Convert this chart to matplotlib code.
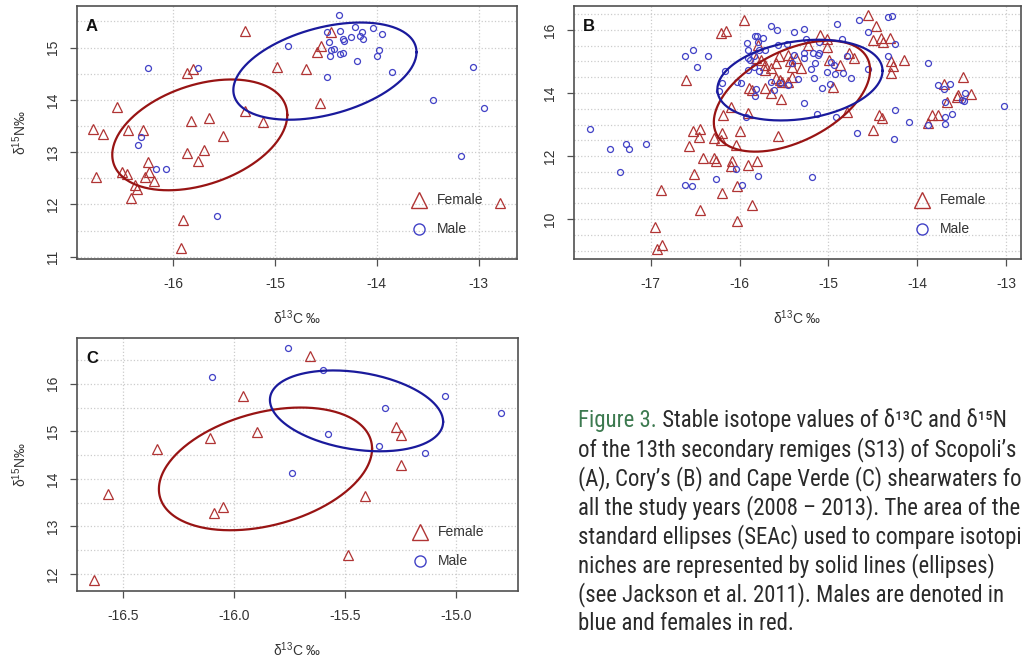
"""
Stable isotope biplots (d13C vs d15N) for three shearwater species, sexes split,
with the standard ellipses drawn on top.  Three panels + figure caption.
"""

import numpy as np
import matplotlib
matplotlib.use("Agg")
import matplotlib.pyplot as plt
from matplotlib import font_manager
from matplotlib.ticker import MultipleLocator, FormatStrFormatter

plt.rcParams['font.family'] = ['Liberation Sans', 'DejaVu Sans']
plt.rcParams['mathtext.fontset'] = 'custom'
plt.rcParams['mathtext.rm'] = 'Liberation Sans'
plt.rcParams['mathtext.it'] = 'Liberation Sans:italic'
plt.rcParams['axes.unicode_minus'] = False

##############################################################################
####      DATA    ############################################################
##############################################################################

# panel A - Scopoli's shearwater
a_female_c = [-15.30, -15.87, -15.81, -14.98, -14.70, -14.59, -14.55, -14.45, -14.56,
              -15.30, -15.12, -15.51, -15.65, -15.83, -15.70, -15.76, -15.87, -16.55,
              -16.79, -16.69, -16.45, -16.30, -16.25, -16.76, -16.50, -16.46, -16.28,
              -16.24, -16.19, -16.38, -16.36, -16.42, -15.90, -15.92, -12.79]
a_female_n = [15.31, 14.52, 14.59, 14.63, 14.60, 14.91, 15.04, 15.30, 13.94,
              13.78, 13.58, 13.30, 13.65, 13.59, 13.04, 12.83, 12.98, 13.87,
              13.45, 13.34, 13.43, 13.43, 12.82, 12.53, 12.62, 12.59, 12.53,
              12.62, 12.44, 12.38, 12.29, 12.12, 11.71, 11.17, 12.03]
a_male_c = [-16.25, -15.76, -16.32, -16.35, -16.17, -16.07, -15.57, -13.45, -13.05,
            -12.95, -13.17, -14.37, -14.21, -14.04, -13.95, -14.49, -14.36, -14.15,
            -14.25, -14.17, -14.14, -14.33, -14.32, -14.47, -14.87, -14.42, -14.45,
            -14.36, -14.33, -14.46, -13.98, -14.00, -14.19, -13.85, -14.49]
a_male_n = [14.61, 14.61, 13.28, 13.13, 12.68, 12.68, 11.77, 13.99, 14.62,
            13.85, 12.92, 15.63, 15.39, 15.38, 15.26, 15.30, 15.31, 15.30,
            15.21, 15.23, 15.17, 15.17, 15.12, 15.11, 15.04, 14.98, 14.95,
            14.88, 14.89, 14.83, 14.95, 14.83, 14.74, 14.53, 14.44]

# panel B - Cory's shearwater
b_female_c = [-15.95, -16.21, -16.15, -16.60, -15.79, -15.82, -15.76, -15.71, -15.71,
              -15.65, -15.59, -15.56, -15.46, -15.43, -15.41, -15.36, -15.59, -15.55,
              -15.52, -15.46, -15.41, -15.89, -15.86, -15.71, -15.65, -15.53, -16.19,
              -16.10, -15.91,
              -14.55, -14.46, -14.50, -14.41, -14.39, -14.31, -15.09, -15.01, -15.23,
              -15.02, -14.77, -14.71, -14.87, -14.99, -15.31, -14.30, -14.27, -14.30,
              -14.15, -14.95, -13.48, -13.70, -13.66, -13.54, -13.55, -13.39, -13.83,
              -13.76, -13.88, -14.43, -14.40, -14.79,
              -16.52, -16.45, -16.46, -16.57, -16.29, -16.20, -16.21, -15.99, -16.04,
              -15.57, -16.41, -16.29, -16.27, -16.08, -16.10, -15.90, -15.80, -16.51,
              -16.88, -16.20, -16.03, -15.86, -16.45, -16.03, -16.95, -16.87, -16.93,
              -14.50]
b_female_n = [16.32, 15.89, 15.98, 14.42, 15.52, 15.10, 15.05, 14.89, 14.73,
              14.79, 14.94, 15.16, 15.21, 15.00, 14.84, 15.10, 14.47, 14.42,
              14.36, 14.36, 14.52, 14.15, 14.10, 14.15, 14.01, 13.80, 13.31,
              13.55, 13.36,
              16.48, 16.11, 15.68, 15.74, 15.61, 15.74, 15.84, 15.70, 15.52,
              15.47, 15.26, 15.10, 14.89, 15.05, 14.79, 15.00, 14.87, 14.65,
              15.05, 14.18, 14.52, 14.29, 13.70, 13.94, 13.86, 13.97, 13.31,
              13.31, 13.04, 13.31, 13.20, 13.41,
              12.80, 12.86, 12.59, 12.33, 12.57, 12.73, 12.52, 12.78, 12.36,
              12.64, 11.93, 11.93, 11.85, 11.85, 11.70, 11.72, 11.83, 11.43,
              10.91, 10.83, 11.06, 10.46, 10.30, 9.93, 9.75, 9.17, 9.06,
              12.83]
b_male_c = [-15.65, -15.58, -15.39, -15.83, -15.80, -15.74, -15.92, -15.91, -15.79,
            -15.71, -15.78, -15.57, -15.47, -15.91, -15.88, -15.84, -16.16, -15.84,
            -15.91, -15.78, -16.03, -15.98, -16.20, -16.23, -15.82, -15.83, -15.65,
            -15.54, -15.46, -15.61, -15.93, -15.41, -15.39,
            -16.62, -16.52, -16.35, -16.48,
            -14.66, -14.90, -14.33, -14.28, -15.27, -14.55, -15.25, -15.11, -14.85,
            -14.25, -15.27, -15.17, -15.10, -15.27, -15.12, -14.79, -14.33, -15.15,
            -14.97, -14.94, -15.20, -15.02, -14.93, -14.84, -15.16, -14.75, -15.34,
            -15.07, -14.98, -14.55, -13.88, -13.76, -13.63, -13.70, -13.46, -13.50,
            -13.47, -13.69, -13.02, -14.25, -15.27, -15.13, -14.91, -14.09, -13.88,
            -13.69, -13.61, -13.69,
            -17.68, -17.46, -17.28, -17.24, -17.05, -17.35, -16.61, -16.54, -16.27,
            -16.04, -15.97, -15.79,
            -14.68, -14.26, -15.18]
b_male_n = [16.11, 16.00, 15.93, 15.81, 15.82, 15.76, 15.58, 15.37, 15.61,
            15.37, 15.37, 15.52, 15.55, 15.10, 15.05, 15.18, 14.71, 14.84,
            14.73, 14.71, 14.36, 14.33, 14.31, 14.05, 14.12, 13.89, 14.36,
            14.31, 14.26, 14.10, 13.25, 14.94, 15.21,
            15.16, 15.37, 15.18, 14.84,
            16.32, 16.19, 16.40, 16.45, 16.02, 15.92, 15.70, 15.63, 15.70,
            15.55, 15.26, 15.26, 15.26, 15.10, 15.21, 15.16, 15.16, 14.94,
            14.97, 14.89, 14.75, 14.68, 14.61, 14.63, 14.49, 14.49, 14.44,
            14.17, 14.29, 14.75, 14.94, 14.24, 14.28, 14.12, 13.99, 13.78,
            13.76, 13.73, 13.59, 13.47, 13.68, 13.34, 13.23, 13.07, 12.99,
            13.23, 13.33, 13.01,
            12.85, 12.22, 12.39, 12.22, 12.39, 11.51, 11.09, 11.06, 11.28,
            11.59, 11.09, 11.37,
            12.73, 12.55, 11.35]

# panel C - Cape Verde shearwater
c_female_c = [-15.66, -15.96, -15.90, -16.11, -16.35, -16.57, -16.09, -16.05, -15.27,
              -15.25, -15.25, -15.41, -15.49, -16.63]
c_female_n = [16.58, 15.75, 14.98, 14.86, 14.63, 13.68, 13.28, 13.40, 15.10,
              14.93, 14.29, 13.63, 12.39, 11.87]
c_male_c = [-15.76, -16.10, -15.60, -15.05, -15.32, -14.80, -15.58, -15.35, -15.14, -15.74]
c_male_n = [16.76, 16.14, 16.29, 15.75, 15.49, 15.38, 14.94, 14.70, 14.54, 14.12]

# standard ellipses: centre C, centre N, C half-width, N half-height, correlation
a_female_sea = [-15.74, 13.33, 0.86, 1.06, 0.36]
a_male_sea = [-14.51, 14.55, 0.90, 0.93, 0.39]
b_female_sea = [-15.41, 13.90, 0.88, 1.76, 0.47]
b_male_sea = [-15.32, 14.41, 0.93, 1.28, 0.23]
c_female_sea = [-15.86, 14.21, 0.48, 1.29, 0.33]
c_male_sea = [-15.45, 15.43, 0.39, 0.85, -0.27]

legend_labels = ["Female", "Male"]

caption_head = "Figure 3."
caption_first = " Stable isotope values of \u03b4\u00b9\u00b3C and \u03b4\u00b9\u2075N"
caption_lines = [
    "of the 13th secondary remiges (S13) of Scopoli\u2019s",
    "(A), Cory\u2019s (B) and Cape Verde (C) shearwaters for",
    "all the study years (2008 \u2013 2013). The area of the",
    "standard ellipses (SEAc) used to compare isotopic",
    "niches are represented by solid lines (ellipses)",
    "(see Jackson et al. 2011). Males are denoted in",
    "blue and females in red.",
]

##############################################################################
####      STYLE    ###########################################################
##############################################################################

TRI_COL = '#b03434'
CIRC_COL = '#4141c6'
ELL_RED = '#981414'
ELL_BLUE = '#1a1a9c'
FRAME_COL = '#505050'
TEXT_COL = '#333333'
GRID_COL = '#cccccc'


def draw_ellipse(ax, params, color):
    cx, cy, sx, sy, rho = params
    t = np.linspace(0, 2 * np.pi, 300)
    x = cx + sx * np.cos(t)
    y = cy + sy * (rho * np.cos(t) + np.sqrt(1 - rho ** 2) * np.sin(t))
    ax.plot(x, y, color=color, lw=1.6, zorder=4)


def add_legend(ax):
    # R style legend, no box
    ax.plot([0.778], [0.235], ls='none', marker='^', ms=12, mfc='none',
            mec=TRI_COL, mew=1.0, transform=ax.transAxes, clip_on=False)
    ax.plot([0.778], [0.117], ls='none', marker='o', ms=8, mfc='none',
            mec=CIRC_COL, mew=1.0, transform=ax.transAxes, clip_on=False)
    ax.text(0.819, 0.235, legend_labels[0], transform=ax.transAxes,
            fontsize=10, color=TEXT_COL, ha='left', va='center')
    ax.text(0.819, 0.117, legend_labels[1], transform=ax.transAxes,
            fontsize=10, color=TEXT_COL, ha='left', va='center')


def make_panel(fig, rect, fc, fn, mc, mn, f_sea, m_sea, letter,
               xlim, ylim, xstep, ystep, ygrid, xfmt, ylabel=True):
    ax = fig.add_axes(rect)

    ax.plot(fc, fn, ls='none', marker='^', ms=6.5, mfc='none', mec=TRI_COL, mew=0.9, zorder=3)
    ax.plot(mc, mn, ls='none', marker='o', ms=4.3, mfc='none', mec=CIRC_COL, mew=0.9, zorder=3)
    draw_ellipse(ax, f_sea, ELL_RED)
    draw_ellipse(ax, m_sea, ELL_BLUE)

    ax.set_xlim(xlim)
    ax.set_ylim(ylim)
    ax.xaxis.set_major_locator(MultipleLocator(xstep))
    ax.xaxis.set_major_formatter(FormatStrFormatter(xfmt))
    ax.yaxis.set_major_locator(MultipleLocator(ystep))
    ax.yaxis.set_minor_locator(MultipleLocator(ygrid))

    # dotted grid
    ax.grid(True, which='major', axis='x', ls=':', color=GRID_COL, lw=0.9)
    ax.grid(True, which='both', axis='y', ls=':', color=GRID_COL, lw=0.9)
    ax.set_axisbelow(True)

    for sp in ax.spines.values():
        sp.set_color(FRAME_COL)
        sp.set_linewidth(1.2)
    ax.tick_params(which='major', direction='out', length=5, width=0.9,
                   color=FRAME_COL, labelcolor=TEXT_COL, labelsize=10, pad=8)
    ax.tick_params(which='minor', length=0)
    ax.tick_params(axis='y', labelrotation=90, pad=7)
    for lab in ax.get_yticklabels():
        lab.set_va('center')

    ax.set_xlabel('\u03b4$^{13}$C \u2030', fontsize=10, color=TEXT_COL)
    ax.xaxis.set_label_coords(0.5, -0.233)
    ax.xaxis.label.set_va('center')
    if ylabel:
        ax.set_ylabel('\u03b4$^{15}$N\u2030', fontsize=10, color=TEXT_COL)
        ax.yaxis.set_label_coords(-0.13, 0.5)
        ax.yaxis.label.set_va('center')

    ax.text(0.034, 0.92, letter, transform=ax.transAxes, fontsize=12,
            fontweight='bold', color='#111111', ha='center', va='center')
    add_legend(ax)
    return ax


fig = plt.figure(figsize=(10.22, 6.6), dpi=100)

make_panel(fig, [0.0753, 0.6076, 0.4305, 0.3833], a_female_c, a_female_n, a_male_c, a_male_n,
           a_female_sea, a_male_sea, 'A', (-16.947, -12.623), (10.955, 15.796), 1, 1, 0.5, '%d')
make_panel(fig, [0.5616, 0.6076, 0.4374, 0.3833], b_female_c, b_female_n, b_male_c, b_male_n,
           b_female_sea, b_male_sea, 'B', (-17.865, -12.831), (8.735, 16.76), 1, 2, 0.5, '%d',
           ylabel=False)
make_panel(fig, [0.0753, 0.1045, 0.4315, 0.3833], c_female_c, c_female_n, c_male_c, c_male_n,
           c_female_sea, c_male_sea, 'C', (-16.709, -14.723), (11.642, 16.961), 0.5, 1, 0.5, '%.1f')

# caption - pick a narrow face if one is installed, then size it so the
# second line is as wide as in the original (~435 px)
installed = {f.name for f in font_manager.fontManager.ttflist}
cap_family = 'Lato'
for name in ['Roboto Condensed', 'DejaVu Sans Condensed', 'Liberation Sans Narrow',
             'Open Sans Condensed', 'Noto Sans Condensed']:
    if name in installed:
        cap_family = name
        break
cap_font = [cap_family, 'DejaVu Sans']

renderer = fig.canvas.get_renderer()
probe = fig.text(0, 0, caption_lines[0], family=cap_font, fontsize=10)
probe_w = probe.get_window_extent(renderer).width
probe.remove()
cap_size = 10 * 435 / probe_w

x0 = 578 / 1022
base = 427
step = 29
first = fig.text(x0, 1 - base / 660, caption_head, family=cap_font, fontsize=cap_size,
                 color='#3d7a50', ha='left', va='baseline')
bb = first.get_window_extent(renderer)
fig.text(bb.x1 / fig.bbox.width, 1 - base / 660, caption_first,
         family=cap_font, fontsize=cap_size, color='#2a2a2a', ha='left', va='baseline')
for i, line in enumerate(caption_lines):
    fig.text(x0, 1 - (base + step * (i + 1)) / 660, line, family=cap_font, fontsize=cap_size,
             color='#2a2a2a', ha='left', va='baseline')

fig.savefig('out.png', dpi=100)
